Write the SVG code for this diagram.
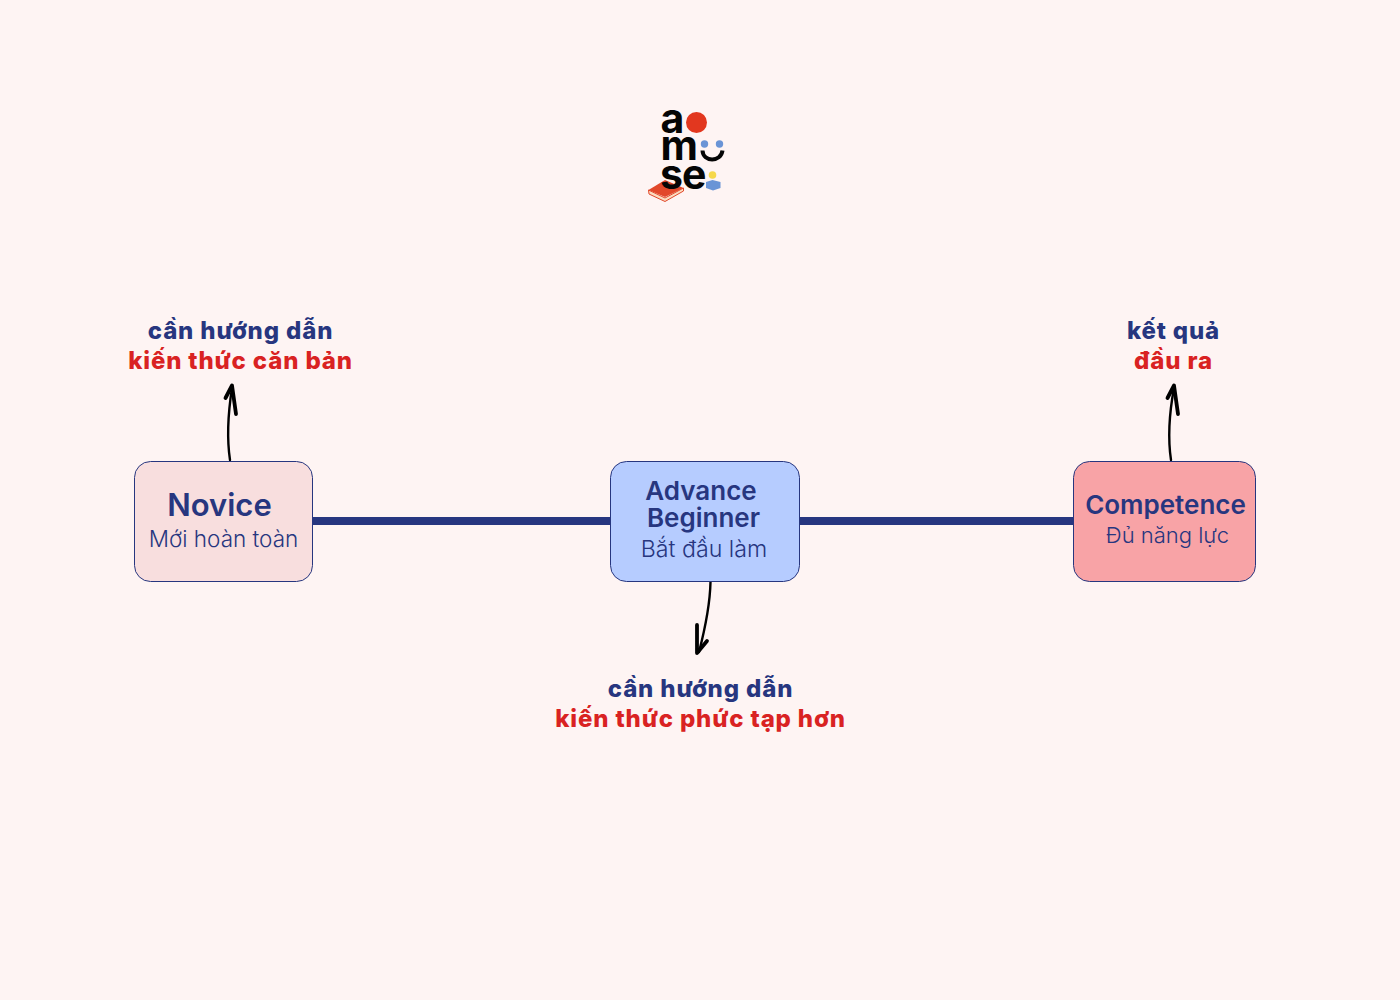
<svg xmlns="http://www.w3.org/2000/svg" width="1400" height="1000" viewBox="0 0 1400 1000">
<style>
.box{stroke:#27367f;stroke-width:1}
.t{font-family:Inter,"Liberation Sans",sans-serif;fill:#27367f;text-anchor:middle}
.b{font-weight:600}
.s{font-weight:350;font-size:22.5px}
.l{font-family:Inter,"Open Sans",sans-serif;font-weight:800;font-size:24px;letter-spacing:0.85px;text-anchor:middle}
.blue{fill:#27367f}.red{fill:#d92222}
.logo{font-family:Inter,"Liberation Sans",sans-serif;font-weight:700;font-size:41px;fill:#050505}
.arrow{fill:none;stroke:#000;stroke-width:2.4;stroke-linecap:round;stroke-linejoin:round}
.head{fill:none;stroke:#000;stroke-width:3.8;stroke-linecap:round;stroke-linejoin:round}
</style>
<rect width="1400" height="1000" fill="#fef4f3"/>
<g id="logo">
<text class="logo" x="660.500" y="133">a</text>
<circle cx="696.500" cy="122.500" r="10.500" fill="#e2371f"/>
<text class="logo" x="660.500" y="160">m</text>
<circle cx="704.500" cy="144" r="3.700" fill="#6a94d6"/>
<circle cx="719.500" cy="144" r="3.700" fill="#6a94d6"/>
<path d="M702.500 150.500 C703 162.500 721 162.500 722.500 150.500" fill="none" stroke="#050505" stroke-width="4"/>
<path d="M648.500 190 L665 180 L683.500 188 L665 197 Z" fill="#e2482b"/>
<path d="M648.500 190 L665 198 L683.500 188 L683.500 191 L665 201.500 L649 194 Z" fill="#fbdcc0" stroke="#e2482b" stroke-width="1"/>
<text class="logo" x="660" y="188.500" style="letter-spacing:-1px">se</text>
<circle cx="712.500" cy="175" r="3.800" fill="#f6d84a"/>
<path d="M706 182 L712.500 180 L720.500 182 L720.500 188 L713 190.500 L706 188 Z" fill="#6a94d6"/>
</g>
<g id="connectors">
<path d="M313 521 H611 M799 521 H1074" fill="none" stroke="#27367f" stroke-width="8"/>
<path class="arrow" d="M230 460 C227 440 227 420 232 388"/>
<path class="head" d="M225.500 398 L232 385.500 L236 414"/>
<path class="arrow" d="M1171 460 C1168 440 1168 420 1174 388"/>
<path class="head" d="M1167.500 398 L1174 385.500 L1178 414"/>
<path class="arrow" d="M710.500 582 C710 605 706 625 699 652"/>
<path class="head" d="M697 625 L697 653 L707 641"/>
</g>
<g id="novice">
<rect class="box" x="134.500" y="461.500" width="178" height="120" rx="16" fill="#f8dede"/>
<text class="t b" x="219.500" y="516" font-size="31">Novice</text>
<text class="t s" x="223.500" y="547">Mới hoàn toàn</text>
</g>
<g id="advance-beginner">
<rect class="box" x="610.500" y="461.500" width="189" height="120" rx="16" fill="#b6ccff"/>
<text class="t b" x="701" y="500" font-size="26">Advance</text>
<text class="t b" x="703.500" y="527" font-size="26">Beginner</text>
<text class="t s" x="704" y="557" style="font-size:23.2px">Bắt đầu làm</text>
</g>
<g id="competence">
<rect class="box" x="1073.500" y="461.500" width="182" height="120" rx="16" fill="#f8a3a6"/>
<text class="t b" x="1165.500" y="514" font-size="26">Competence</text>
<text class="t s" x="1167.500" y="543" style="font-size:22px">Đủ năng lực</text>
</g>
<g id="label-novice">
<text class="l blue" x="240.500" y="339">cần hướng dẫn</text>
<text class="l red" x="240.500" y="369">kiến thức căn bản</text>
</g>
<g id="label-advance">
<text class="l blue" x="700.500" y="697">cần hướng dẫn</text>
<text class="l red" x="700.500" y="727">kiến thức phức tạp hơn</text>
</g>
<g id="label-competence">
<text class="l blue" x="1173.500" y="339">kết quả</text>
<text class="l red" x="1173.500" y="369">đầu ra</text>
</g>
</svg>
